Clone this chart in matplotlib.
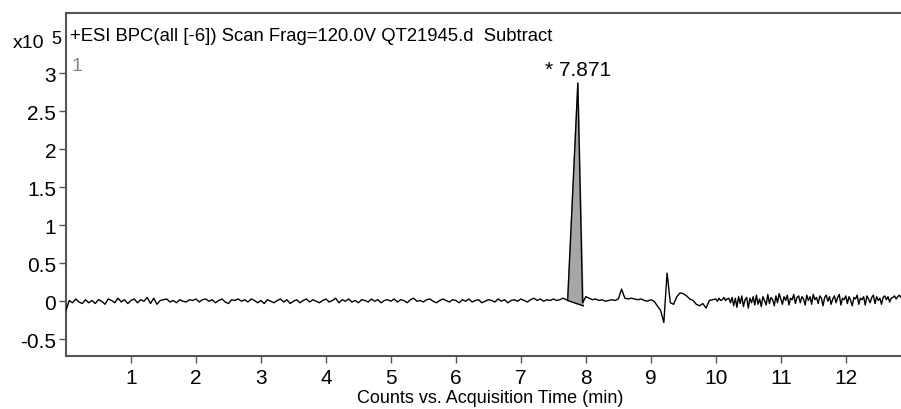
import numpy as np
import matplotlib
matplotlib.use("Agg")
import matplotlib.pyplot as plt

early_counts = [
    -0.12, 0.01, -0.02, 0.03, -0.01, -0.03, 0.02, -0.02, 0.01, -0.03,
    0.02, 0.00, -0.04, 0.03, 0.01, -0.02, 0.04, -0.01, 0.02, -0.03,
    0.01, 0.03, -0.02, 0.02, 0.00, 0.05, -0.03, 0.04, -0.04, 0.01,
    0.02, 0.03, -0.01, 0.01, -0.02, 0.02, 0.00, -0.01, 0.02, 0.01,
    0.03, -0.01, 0.02, 0.03, 0.00, 0.02, -0.02, 0.01, 0.03, -0.01,
    -0.03, 0.02, 0.01, 0.03, 0.00, 0.02, -0.01, 0.03, 0.01, -0.02,
    0.01, -0.03, 0.02, 0.00, -0.02, 0.01, 0.03, -0.01, 0.02, -0.03,
    0.00, 0.02, -0.02, 0.01, 0.03, -0.01, 0.02, 0.00, -0.02, 0.01,
    0.03, -0.01, 0.01, 0.04, -0.02, 0.02, 0.00, 0.03, -0.01, 0.01,
    -0.02, 0.02, 0.01, -0.01, 0.03, 0.00, 0.02, -0.02, 0.01, 0.02,
    0.00, 0.03, -0.01, 0.02, 0.01, -0.02, 0.02, 0.04, 0.00, 0.01,
    -0.01, 0.02, 0.03, 0.00, -0.02, 0.01, 0.03, 0.01, -0.01, 0.02,
    0.01, -0.02, 0.02, 0.00, 0.03, -0.01, 0.01, 0.02, -0.02, 0.00,
    0.02, 0.01, -0.01, 0.03, 0.00, 0.02, -0.02, 0.01, 0.02, 0.00,
    0.03, 0.01, -0.01, 0.02, 0.04, 0.01, 0.03, 0.00, 0.02, 0.01,
    0.03, 0.01, 0.02, 0.04, 0.02,
]
early_start, early_end = 0.00, 7.70

# the integrated peak
peak_time = [7.72, 7.877, 7.95]
peak_counts = [0.01, 2.87, -0.02]
integ_time = [7.72, 7.96]
integ_level = [0.01, -0.06]

# 8.00 - 9.95 min, every 0.05 min
mid_counts = [
    0.06, 0.04, 0.02, 0.03, 0.01, 0.02, 0.00, 0.01, 0.02, 0.01,
    0.03, 0.16, 0.04, 0.03, 0.04, 0.03, 0.02, 0.03, 0.01, 0.00,
    0.02, 0.00, -0.06, -0.12, -0.28, 0.37, -0.02, -0.04, 0.06, 0.11,
    0.10, 0.07, 0.03, 0.01, -0.04, -0.06, -0.03, -0.09, 0.01, 0.02,
]
mid_start, mid_end = 8.00, 9.95

# 10.00 - 12.85 min, every 0.025 min (noisier tail)
tail_counts = [
    0.03, 0.00, 0.04, 0.01, 0.02, 0.05, 0.01, 0.03, 0.04, -0.02,
    0.05, -0.06, 0.04, -0.08, 0.06, -0.03, 0.07, -0.07, 0.02, 0.05,
    -0.09, 0.04, -0.02, 0.06, -0.05, 0.08, -0.04, 0.03, -0.07, 0.06,
    0.01, -0.05, 0.09, -0.03, 0.05, 0.02, -0.06, 0.07, -0.02, 0.10,
    0.03, -0.04, 0.06, 0.01, 0.08, -0.05, 0.04, 0.02, 0.09, -0.03,
    0.05, 0.07, -0.02, 0.06, 0.03, -0.05, 0.08, 0.01, 0.06, -0.04,
    0.09, 0.02, 0.05, -0.03, 0.07, 0.04, -0.06, 0.05, 0.08, 0.00,
    0.06, -0.04, 0.03, 0.07, -0.02, 0.05, 0.09, -0.05, 0.04, 0.02,
    0.07, -0.03, 0.06, 0.01, -0.06, 0.05, 0.03, 0.08, -0.04, 0.04,
    0.02, 0.06, -0.05, 0.07, 0.03, -0.02, 0.05, 0.08, -0.03, 0.06,
    0.01, 0.04, -0.04, 0.05, 0.07, 0.02, 0.06, -0.01, 0.04, 0.05,
    0.07, 0.03, 0.06, 0.08, 0.05,
]
tail_start, tail_end = 10.00, 12.85

x_ticks = list(range(1, 13))
y_ticks = [-0.5, 0, 0.5, 1, 1.5, 2, 2.5, 3]
y_tick_labels = ["-0.5", "0", "0.5", "1", "1.5", "2", "2.5", "3"]

title_text = "+ESI BPC(all [-6]) Scan Frag=120.0V QT21945.d  Subtract"
peak_label = "* 7.871"
x_label = "Counts vs. Acquisition Time (min)"

plt.rcParams["font.family"] = ["Liberation Sans", "DejaVu Sans"]

early_t = np.linspace(early_start, early_end, len(early_counts))
mid_t = np.linspace(mid_start, mid_end, len(mid_counts))
tail_t = np.linspace(tail_start, tail_end, len(tail_counts))
t = np.concatenate([early_t, peak_time, mid_t, tail_t])
y = np.concatenate([early_counts, peak_counts, mid_counts, tail_counts])

fig = plt.figure(figsize=(9.01, 4.10), dpi=100)
ax = fig.add_axes([66 / 901, 1 - 357 / 410, 1 - 66 / 901, (357 - 14) / 410])

ax.fill([peak_time[0], peak_time[1], integ_time[1]],
        [integ_level[0], peak_counts[1], integ_level[1]],
        color="#a6a6a6", zorder=1)
ax.plot(integ_time, integ_level, color="black", lw=1.0, zorder=2)
ax.plot(t, y, color="black", lw=1.0, zorder=3)

ax.set_xlim(0.0, 12.85)
ax.set_ylim(-0.72, 3.79)
ax.set_xticks(x_ticks)
ax.set_xticklabels([str(v) for v in x_ticks], fontsize=15)
ax.set_yticks(y_ticks)
ax.set_yticklabels(y_tick_labels, fontsize=15)
ax.tick_params(axis="x", direction="out", length=5, pad=4, width=1, color="#555555")
ax.tick_params(axis="y", direction="out", length=5, pad=2, width=1, color="#555555")
ax.spines["right"].set_visible(False)
for s in ["left", "bottom", "top"]:
    ax.spines[s].set_color("#555555")
    ax.spines[s].set_linewidth(1.5)

ax.text(0.005, 0.933, title_text, transform=ax.transAxes, fontsize=13.3, ha="left", va="center")
ax.text(0.007, 0.848, "1", transform=ax.transAxes, fontsize=14, color="#888888", ha="left", va="center")
ax.annotate(peak_label, xy=(peak_time[1], peak_counts[1]), xytext=(0, 3), textcoords="offset points",
            ha="center", va="bottom", fontsize=15)

fig.text(13 / 901, 1 - 44 / 410, "x10", fontsize=14, ha="left", va="center")
fig.text(51 / 901, 1 - 40 / 410, "5", fontsize=13, ha="left", va="center")
fig.text(490 / 901, 1 - 399 / 410, x_label, fontsize=13, ha="center", va="center")

fig.savefig("out.png", dpi=100)
